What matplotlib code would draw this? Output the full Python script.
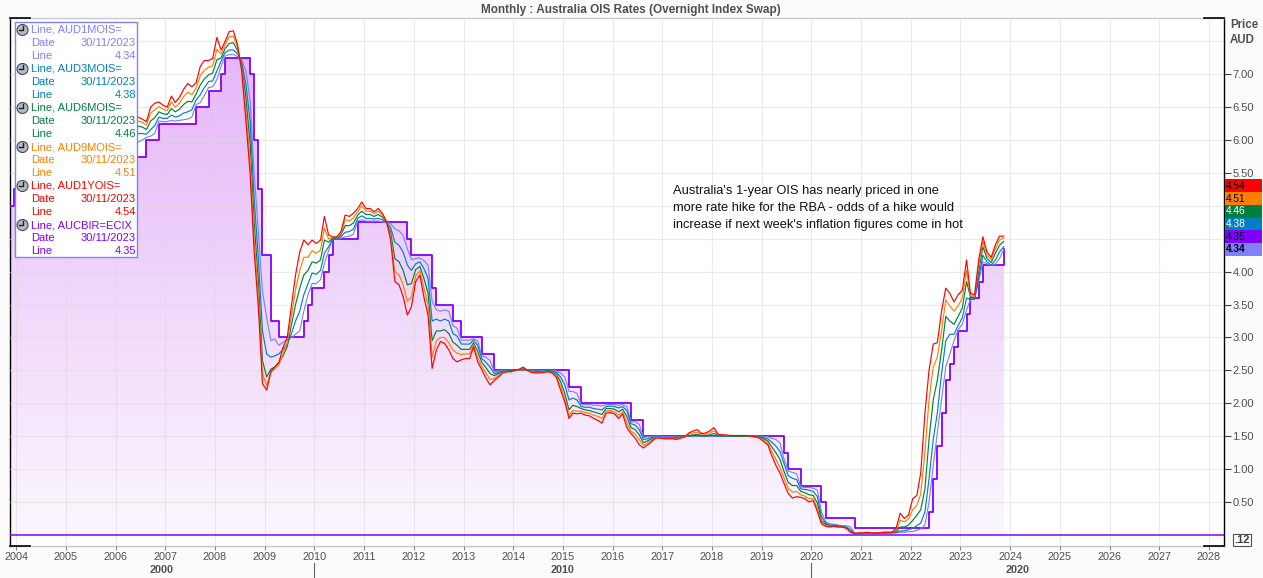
import numpy as np
import pandas as pd
import matplotlib
matplotlib.use("Agg")
import matplotlib.pyplot as plt
import matplotlib.dates as mdates
from matplotlib.patches import Rectangle, Ellipse
from matplotlib.transforms import blended_transform_factory
from matplotlib.lines import Line2D

plt.rcParams["font.family"] = ["Liberation Sans", "DejaVu Sans"]

# ---------------- data ----------------
# monthly samples, May 2006 .. Nov 2023 (mid-month)
months = pd.date_range("2006-05-01", "2023-11-01", freq="MS") + pd.Timedelta(days=14)

# RBA cash rate (AUCBIR=ECIX): month of change and new level
cash_months = ["2003-11", "2003-12", "2005-03", "2006-05", "2006-08", "2006-11", "2007-08", "2007-11",
               "2008-02", "2008-03", "2008-09", "2008-10", "2008-11", "2008-12", "2009-02", "2009-04",
               "2009-10", "2009-11", "2009-12", "2010-03", "2010-04", "2010-05", "2010-11", "2011-11",
               "2011-12", "2012-05", "2012-06", "2012-10", "2012-12", "2013-05", "2013-08", "2015-02",
               "2015-05", "2016-05", "2016-08", "2019-06", "2019-07", "2019-10", "2020-03", "2020-04",
               "2020-11", "2022-05", "2022-06", "2022-07", "2022-08", "2022-09", "2022-10", "2022-11",
               "2022-12", "2023-02", "2023-03", "2023-05", "2023-06", "2023-11"]
cash_levels = [5.00, 5.25, 5.50, 5.75, 6.00, 6.25, 6.50, 6.75,
               7.00, 7.25, 7.00, 6.00, 5.25, 4.25, 3.25, 3.00,
               3.25, 3.50, 3.75, 4.00, 4.25, 4.50, 4.75, 4.50,
               4.25, 3.75, 3.50, 3.25, 3.00, 2.75, 2.50, 2.25,
               2.00, 1.75, 1.50, 1.25, 1.00, 0.75, 0.50, 0.25,
               0.10, 0.35, 0.85, 1.35, 1.85, 2.35, 2.60, 2.85,
               3.10, 3.35, 3.60, 3.85, 4.10, 4.35]

ois_1y = [
    6.30, 6.35, 6.32, 6.28, 6.50, 6.56, 6.58, 6.53,                    # 2006 May-Dec
    6.50, 6.67, 6.57, 6.65, 6.77, 6.86, 6.81, 6.87, 7.12, 7.21, 7.21, 7.24,
    7.56, 7.37, 7.50, 7.65, 7.66, 7.45, 7.05, 6.30, 5.50, 4.30, 3.45, 2.30,
    2.20, 2.48, 2.55, 2.62, 2.85, 3.00, 3.47, 3.95, 4.30, 4.48, 4.41, 4.48,
    4.43, 4.48, 4.84, 4.56, 4.53, 4.53, 4.61, 4.86, 4.84, 4.89, 4.96, 5.06,
    4.96, 4.96, 4.91, 4.96, 4.89, 4.76, 4.48, 3.85, 3.80, 3.62, 3.34, 3.47,
    3.85, 3.95, 3.62, 3.34, 2.53, 2.81, 2.94, 2.91, 2.81, 2.68, 2.63, 2.66,
    2.68, 2.68, 2.86, 2.63, 2.51, 2.38, 2.28, 2.35, 2.40, 2.46, 2.48, 2.48,
    2.50, 2.52, 2.55, 2.50, 2.47, 2.46, 2.46, 2.47, 2.48, 2.46, 2.39, 2.20,
    2.02, 1.77, 1.85, 1.84, 1.85, 1.82, 1.81, 1.77, 1.74, 1.70, 1.85, 1.86,
    1.84, 1.77, 1.84, 1.63, 1.54, 1.47, 1.37, 1.32, 1.37, 1.42, 1.47, 1.47,
    1.46, 1.46, 1.46, 1.45, 1.47, 1.49, 1.55, 1.58, 1.60, 1.54, 1.55, 1.58,
    1.63, 1.53, 1.52, 1.52, 1.51, 1.51, 1.51, 1.51, 1.51, 1.50, 1.49, 1.47,
    1.42, 1.37, 1.21, 1.06, 0.94, 0.78, 0.63, 0.56, 0.58, 0.57, 0.55, 0.50,
    0.52, 0.35, 0.17, 0.13, 0.12, 0.13, 0.12, 0.12, 0.10, 0.04, 0.02, 0.03,
    0.03, 0.04, 0.03, 0.03, 0.03, 0.04, 0.04, 0.04, 0.10, 0.33, 0.25, 0.30,
    0.55, 0.60, 0.94, 1.85, 2.50, 2.90, 2.92, 3.40, 3.75, 3.67, 3.54, 3.65,
    3.72, 4.18, 3.67, 3.65, 4.18, 4.53, 4.30, 4.22, 4.41, 4.54, 4.54,  # 2023 Jan-Nov
]
ois_9m = [
    6.25, 6.29, 6.27, 6.23, 6.41, 6.46, 6.51, 6.47,
    6.45, 6.58, 6.50, 6.56, 6.66, 6.73, 6.69, 6.79, 6.98, 7.06, 7.11, 7.13,
    7.38, 7.31, 7.45, 7.57, 7.58, 7.41, 7.09, 6.45, 5.70, 4.50, 3.62, 2.45,
    2.27, 2.48, 2.52, 2.58, 2.75, 2.92, 3.32, 3.72, 4.02, 4.22, 4.22, 4.32,
    4.28, 4.33, 4.66, 4.50, 4.52, 4.52, 4.58, 4.79, 4.77, 4.82, 4.91, 5.00,
    4.92, 4.92, 4.88, 4.92, 4.86, 4.76, 4.54, 4.00, 3.95, 3.80, 3.55, 3.62,
    3.94, 4.01, 3.76, 3.50, 2.70, 2.95, 3.00, 3.00, 2.92, 2.81, 2.76, 2.74,
    2.75, 2.75, 2.89, 2.70, 2.56, 2.46, 2.36, 2.38, 2.42, 2.47, 2.48, 2.48,
    2.50, 2.51, 2.54, 2.50, 2.48, 2.47, 2.47, 2.48, 2.48, 2.47, 2.41, 2.26,
    2.07, 1.82, 1.89, 1.88, 1.88, 1.86, 1.85, 1.82, 1.80, 1.77, 1.88, 1.89,
    1.87, 1.82, 1.87, 1.71, 1.58, 1.53, 1.45, 1.36, 1.40, 1.44, 1.48, 1.48,
    1.47, 1.47, 1.47, 1.46, 1.48, 1.49, 1.53, 1.55, 1.56, 1.52, 1.53, 1.55,
    1.58, 1.52, 1.52, 1.51, 1.51, 1.51, 1.51, 1.51, 1.51, 1.50, 1.49, 1.48,
    1.44, 1.40, 1.27, 1.15, 1.03, 0.86, 0.71, 0.65, 0.66, 0.61, 0.59, 0.55,
    0.55, 0.40, 0.19, 0.14, 0.13, 0.13, 0.12, 0.12, 0.10, 0.04, 0.02, 0.03,
    0.03, 0.03, 0.03, 0.03, 0.03, 0.04, 0.04, 0.04, 0.07, 0.22, 0.20, 0.24,
    0.38, 0.45, 0.62, 1.25, 2.05, 2.55, 2.70, 3.10, 3.57, 3.48, 3.40, 3.48,
    3.60, 4.02, 3.64, 3.62, 4.10, 4.46, 4.25, 4.18, 4.35, 4.48, 4.51,
]
ois_6m = [
    6.17, 6.21, 6.20, 6.16, 6.29, 6.34, 6.43, 6.40,
    6.39, 6.48, 6.43, 6.47, 6.54, 6.59, 6.58, 6.70, 6.84, 6.93, 6.99, 7.02,
    7.22, 7.25, 7.39, 7.47, 7.48, 7.36, 7.14, 6.65, 5.95, 4.75, 3.85, 2.65,
    2.40, 2.52, 2.55, 2.62, 2.72, 2.86, 3.18, 3.50, 3.75, 3.95, 4.02, 4.15,
    4.13, 4.18, 4.48, 4.45, 4.51, 4.51, 4.56, 4.70, 4.70, 4.74, 4.86, 4.92,
    4.87, 4.87, 4.84, 4.87, 4.83, 4.75, 4.60, 4.20, 4.15, 4.02, 3.80, 3.82,
    4.03, 4.08, 3.90, 3.68, 2.95, 3.10, 3.10, 3.12, 3.06, 2.93, 2.88, 2.82,
    2.82, 2.82, 2.92, 2.79, 2.62, 2.54, 2.45, 2.42, 2.45, 2.48, 2.49, 2.49,
    2.50, 2.51, 2.53, 2.50, 2.48, 2.48, 2.48, 2.48, 2.49, 2.48, 2.44, 2.33,
    2.15, 1.90, 1.97, 1.95, 1.92, 1.90, 1.89, 1.87, 1.85, 1.83, 1.92, 1.92,
    1.91, 1.87, 1.91, 1.80, 1.63, 1.60, 1.52, 1.40, 1.43, 1.46, 1.48, 1.48,
    1.47, 1.47, 1.47, 1.47, 1.48, 1.49, 1.51, 1.52, 1.53, 1.51, 1.51, 1.52,
    1.54, 1.51, 1.51, 1.51, 1.50, 1.50, 1.50, 1.50, 1.50, 1.50, 1.49, 1.49,
    1.46, 1.43, 1.34, 1.25, 1.15, 0.96, 0.80, 0.75, 0.75, 0.66, 0.64, 0.61,
    0.60, 0.48, 0.22, 0.16, 0.14, 0.14, 0.13, 0.12, 0.11, 0.05, 0.02, 0.02,
    0.02, 0.03, 0.02, 0.02, 0.03, 0.03, 0.03, 0.04, 0.05, 0.12, 0.12, 0.15,
    0.22, 0.30, 0.38, 0.70, 1.45, 2.05, 2.35, 2.80, 3.32, 3.25, 3.20, 3.32,
    3.45, 3.85, 3.62, 3.60, 4.00, 4.38, 4.20, 4.14, 4.28, 4.40, 4.46,
]
ois_3m = [
    6.08, 6.10, 6.10, 6.09, 6.16, 6.22, 6.35, 6.33,
    6.33, 6.38, 6.35, 6.37, 6.41, 6.43, 6.46, 6.61, 6.69, 6.80, 6.89, 6.90,
    7.05, 7.20, 7.33, 7.37, 7.37, 7.31, 7.19, 6.85, 6.30, 5.10, 4.20, 3.10,
    2.75, 2.70, 2.72, 2.75, 2.82, 2.90, 3.05, 3.25, 3.40, 3.65, 3.82, 3.98,
    3.96, 4.02, 4.28, 4.38, 4.50, 4.51, 4.53, 4.60, 4.61, 4.65, 4.81, 4.85,
    4.81, 4.81, 4.80, 4.81, 4.79, 4.75, 4.67, 4.45, 4.40, 4.30, 4.10, 4.02,
    4.12, 4.15, 4.05, 3.90, 3.25, 3.28, 3.25, 3.28, 3.25, 3.06, 3.02, 2.90,
    2.90, 2.90, 2.96, 2.88, 2.68, 2.62, 2.55, 2.45, 2.47, 2.49, 2.49, 2.49,
    2.50, 2.50, 2.51, 2.50, 2.49, 2.49, 2.49, 2.49, 2.50, 2.49, 2.47, 2.40,
    2.28, 2.05, 2.08, 2.05, 1.95, 1.94, 1.94, 1.92, 1.91, 1.90, 1.95, 1.96,
    1.95, 1.93, 1.95, 1.89, 1.69, 1.67, 1.60, 1.45, 1.46, 1.48, 1.49, 1.49,
    1.48, 1.48, 1.48, 1.48, 1.49, 1.50, 1.50, 1.51, 1.51, 1.50, 1.50, 1.51,
    1.51, 1.50, 1.50, 1.50, 1.50, 1.50, 1.50, 1.50, 1.50, 1.50, 1.50, 1.49,
    1.48, 1.46, 1.41, 1.35, 1.27, 1.08, 0.90, 0.86, 0.84, 0.70, 0.69, 0.68,
    0.66, 0.58, 0.28, 0.18, 0.15, 0.15, 0.14, 0.13, 0.12, 0.08, 0.02, 0.02,
    0.02, 0.02, 0.02, 0.02, 0.03, 0.03, 0.03, 0.03, 0.04, 0.06, 0.06, 0.08,
    0.10, 0.14, 0.18, 0.35, 0.85, 1.45, 1.85, 2.45, 2.95, 3.05, 3.05, 3.18,
    3.30, 3.60, 3.58, 3.58, 3.90, 4.25, 4.15, 4.10, 4.18, 4.30, 4.38,
]
ois_1m = [
    5.95, 5.97, 6.00, 6.04, 6.06, 6.10, 6.29, 6.28,
    6.28, 6.30, 6.29, 6.30, 6.31, 6.32, 6.35, 6.54, 6.57, 6.68, 6.80, 6.81,
    6.92, 7.12, 7.28, 7.30, 7.30, 7.27, 7.22, 7.05, 6.60, 5.50, 4.60, 3.70,
    3.30, 2.95, 2.98, 2.88, 2.93, 2.96, 3.00, 3.05, 3.10, 3.40, 3.65, 3.82,
    3.82, 3.88, 4.12, 4.32, 4.50, 4.50, 4.51, 4.53, 4.54, 4.57, 4.77, 4.79,
    4.77, 4.77, 4.77, 4.77, 4.76, 4.75, 4.73, 4.65, 4.62, 4.55, 4.35, 4.18,
    4.20, 4.21, 4.17, 4.10, 3.55, 3.42, 3.40, 3.42, 3.40, 3.18, 3.14, 2.96,
    2.96, 2.96, 2.98, 2.95, 2.72, 2.70, 2.65, 2.48, 2.49, 2.50, 2.50, 2.50,
    2.50, 2.50, 2.50, 2.50, 2.50, 2.50, 2.50, 2.50, 2.50, 2.50, 2.49, 2.46,
    2.40, 2.18, 2.18, 2.15, 1.98, 1.98, 1.98, 1.97, 1.97, 1.96, 1.98, 1.98,
    1.98, 1.97, 1.98, 1.95, 1.72, 1.72, 1.68, 1.48, 1.49, 1.49, 1.50, 1.50,
    1.49, 1.49, 1.49, 1.49, 1.49, 1.50, 1.50, 1.50, 1.50, 1.50, 1.50, 1.50,
    1.50, 1.50, 1.50, 1.50, 1.50, 1.50, 1.50, 1.50, 1.50, 1.50, 1.50, 1.50,
    1.49, 1.49, 1.47, 1.45, 1.40, 1.15, 0.97, 0.95, 0.93, 0.73, 0.72, 0.72,
    0.71, 0.68, 0.35, 0.20, 0.17, 0.16, 0.15, 0.14, 0.14, 0.12, 0.03, 0.02,
    0.02, 0.02, 0.02, 0.02, 0.03, 0.03, 0.03, 0.03, 0.03, 0.04, 0.04, 0.05,
    0.05, 0.07, 0.09, 0.15, 0.50, 1.05, 1.55, 2.05, 2.55, 2.75, 2.95, 3.12,
    3.20, 3.42, 3.58, 3.60, 3.85, 4.15, 4.12, 4.10, 4.12, 4.20, 4.34,
]

series_names = ["AUD1MOIS=", "AUD3MOIS=", "AUD6MOIS=", "AUD9MOIS=", "AUD1YOIS=", "AUCBIR=ECIX"]
series_colors = ["#8080ff", "#0080c0", "#008040", "#ff8000", "#ff0000", "#8000ff"]
tag_text_colors = ["black", "white", "white", "black", "black", "black"]
last_date = "30/11/2023"
title = "Monthly : Australia OIS Rates (Overnight Index Swap)"
note_lines = ["Australia's 1-year OIS has nearly priced in one",
              "more rate hike for the RBA - odds of a hike would",
              "increase if next week's inflation figures come in hot"]

ois = [ois_1m, ois_3m, ois_6m, ois_9m, ois_1y]
for s in ois:
    assert len(s) == len(months), len(s)
assert len(cash_months) == len(cash_levels)

cash_x = pd.to_datetime(cash_months) + pd.Timedelta(days=14)

# ---------------- figure ----------------
W, H = 1263, 578
L, R, T, B = 9.8, 1224, 18, 546
fig = plt.figure(figsize=(W / 100, H / 100), dpi=100, facecolor="#fbfbfb")
ax = fig.add_axes([L / W, 1 - B / H, (R - L) / W, (B - T) / H])
ax.set_facecolor("white")

x0, x1 = cash_x[0], pd.Timestamp("2028-04-21")
y0, y1 = -0.169, 7.856

# gradient fill under the cash rate
poly = ax.fill_between(cash_x, cash_levels, 0, step="post", facecolor="none", edgecolor="none", lw=0)
c_bot = np.array([251, 247, 253]) / 255
c_top = np.array([229, 180, 249]) / 255
g = np.linspace(0, 1, 256)[:, None, None]
img = c_bot + (c_top - c_bot) * g
im = ax.imshow(img, origin="lower", aspect="auto", interpolation="bilinear", zorder=1,
               extent=[mdates.date2num(x0), mdates.date2num(x1), 0, 7.5])
im.set_clip_path(poly.get_paths()[0], transform=ax.transData)

# grid
ax.grid(True, color="#d9d9d9", lw=0.8, alpha=0.5)
ax.axhline(7.5, color="#d9d9d9", lw=0.8, alpha=0.5, zorder=2.5)
ax.set_axisbelow(False)

# series
ax.step(cash_x, cash_levels, where="post", color=series_colors[5], lw=1.3, zorder=3)
ax.axhline(0, color=series_colors[5], lw=1.1, zorder=3)
for k, (s, c) in enumerate(zip(ois, series_colors[:5])):
    ax.plot(months, s, color=c, lw=0.85, zorder=4 + k * 0.1)

ax.set_xlim(x0, x1)
ax.set_ylim(y0, y1)

# last-value tag stack (computed first so covered tick labels can be skipped)
box_h = 12.7 * (y1 - y0) / (B - T)
last_vals = [s[-1] for s in ois] + [cash_levels[-1]]
order = np.argsort(last_vals, kind="stable")
tag_lo = last_vals[order[0]] - box_h / 2
tag_hi = tag_lo + box_h * len(order)

# axes styling
ax.xaxis.set_major_locator(mdates.YearLocator(1))
ax.xaxis.set_major_formatter(mdates.DateFormatter("%Y"))
ax.yaxis.tick_right()
ax.set_yticks(np.arange(0.5, 7.01, 0.5))
ax.yaxis.set_major_formatter(plt.FuncFormatter(
    lambda v, p: "" if tag_lo - 0.08 < v < tag_hi + 0.08 else f"{v:.2f}"))
ax.tick_params(axis="x", length=3, width=0.8, color="#888888", labelsize=7.8,
               labelcolor="#505050", pad=1.5)
ax.tick_params(axis="y", length=5, width=0.8, color="#404040", labelsize=8,
               labelcolor="#505050", pad=1)
for side in ("left", "right"):
    ax.spines[side].set_color("black")
    ax.spines[side].set_linewidth(1)
for side in ("top", "bottom"):
    ax.spines[side].set_color("#c8c8c8")
    ax.spines[side].set_linewidth(1)

# black corner marks on the frame
frag = 20 / (R - L)
for xa, xb in ((0, frag), (1 - frag, 1)):
    for yy in (0, 1):
        ax.add_line(Line2D([xa, xb], [yy, yy], transform=ax.transAxes, color="black",
                           lw=1.2, clip_on=False, zorder=6))

# decade row under the year labels
bx = blended_transform_factory(ax.transData, fig.transFigure)
for d in (2000, 2010, 2020):
    a = max(pd.Timestamp(f"{d}-01-01"), x0)
    b = min(pd.Timestamp(f"{d + 10}-01-01"), x1)
    mid = a + (b - a) / 2
    ax.text(mid, 1 - 570 / H, str(d), transform=bx, ha="center", va="center",
            fontsize=7.8, fontweight="bold", color="#505050", clip_on=False)
    if d > 2000:
        ax.add_line(Line2D([pd.Timestamp(f"{d}-01-01")] * 2, [1 - 563 / H, 1 - 578 / H],
                           transform=bx, color="#606060", lw=0.8, clip_on=False))

# title and axis caption
fig.text(631 / W, 1 - 9.5 / H, title, ha="center", va="center", fontsize=8.5,
         fontweight="bold", color="#505050")
fig.text(1230 / W, 1 - 25 / H, "Price", ha="left", va="center", fontsize=8.3,
         fontweight="bold", color="#505050")
fig.text(1230 / W, 1 - 40 / H, "AUD", ha="left", va="center", fontsize=8.3,
         fontweight="bold", color="#505050")

# last-value tags on the right axis
by = blended_transform_factory(fig.transFigure, ax.transData)
yc = last_vals[order[0]]
for j in order:
    ax.add_patch(Rectangle((1225 / W, yc - box_h / 2), 37 / W, box_h, transform=by,
                           facecolor=series_colors[j], edgecolor="none", clip_on=False, zorder=6))
    ax.text(1226 / W, yc, f"{last_vals[j]:.2f}", transform=by, ha="left", va="center",
            fontsize=7.3, color=tag_text_colors[j], clip_on=False, zorder=7,
            fontweight="bold" if j == 0 else "normal")
    yc += box_h
ax.text(1234 / W, -0.08, ".12", transform=by, ha="left", va="center", fontsize=8,
        fontweight="bold", color="#404040", clip_on=False,
        bbox=dict(boxstyle="square,pad=0.12", fc="white", ec="#505050", lw=0.8))

# annotation
for i, line in enumerate(note_lines):
    fig.text(673 / W, 1 - (191 + 17 * i) / H, line, ha="left", va="center",
             fontsize=9.3, color="#111111")

# legend box
fig.add_artist(Rectangle((15 / W, 1 - 257 / H), 122 / W, 235 / H, transform=fig.transFigure,
                         facecolor="white", edgecolor="#8080ff", lw=1, zorder=10))
for i, (name, c) in enumerate(zip(series_names, series_colors)):
    yy = 30 + 39 * i
    val = last_vals[i]
    fig.add_artist(Ellipse((22.5 / W, 1 - yy / H), 11 / W, 11 / H, transform=fig.transFigure,
                           facecolor="#b4bac2", edgecolor="#454c55", lw=0.8, zorder=11))
    fig.add_artist(Line2D([22.5 / W, 22.5 / W, 18.5 / W], [1 - (yy - 4) / H, 1 - yy / H, 1 - yy / H],
                          transform=fig.transFigure, color="#202020", lw=1, zorder=12))
    rows = [("Line, " + name, ""), ("Date", last_date), ("Line", f"{val:.2f}")]
    for r, (lab, rv) in enumerate(rows):
        ty = 1 - (yy + 13 * r) / H
        fig.text(31 / W, ty, lab, ha="left", va="center", fontsize=8, color=c, zorder=12)
        if rv:
            fig.text(136 / W, ty, rv, ha="right", va="center", fontsize=8, color=c, zorder=12)

fig.savefig("out.png", dpi=100, facecolor=fig.get_facecolor())
